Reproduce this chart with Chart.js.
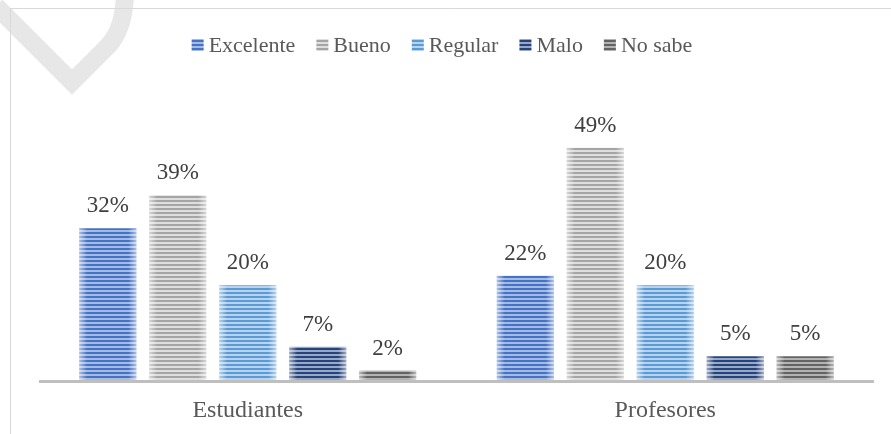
<!DOCTYPE html>
<html>
<head>
<meta charset="utf-8">
<script src="https://cdn.jsdelivr.net/npm/chart.js@4.4.0/dist/chart.umd.min.js"></script>
<style>
  html, body { margin: 0; padding: 0; background: #fff; }
  #wrap { position: relative; width: 891px; height: 434px; }
</style>
</head>
<body>
<div id="wrap"><canvas id="chart" width="891" height="434"></canvas></div>
<script>
const categories = ['Estudiantes', 'Profesores'];
const seriesNames = ['Excelente', 'Bueno', 'Regular', 'Malo', 'No sabe'];
const excelente = [32, 22];
const bueno = [39, 49];
const regular = [20, 20];
const malo = [7, 5];
const noSabe = [2, 5];

// [stripe colour, gap colour]
const seriesColors = [
    ['#4472c4', '#a6bbe4'],
    ['#a5a5a5', '#dedede'],
    ['#5b9bd5', '#b8d3ee'],
    ['#264478', '#98a8c8'],
    ['#636363', '#b3b3b3']
];

const FONT = "'Liberation Serif', 'Times New Roman', serif";

const makeStripes = ([dark, light]) => {
    const c = document.createElement('canvas');
    c.width = 4;
    c.height = 4;
    const g = c.getContext('2d');
    g.fillStyle = light;
    g.fillRect(0, 0, 4, 4);
    g.fillStyle = dark;
    g.fillRect(0, 0, 4, 2);
    return g.createPattern(c, 'repeat');
};

const patterns = seriesColors.map(makeStripes);
const values = [excelente, bueno, regular, malo, noSabe];

// watermark, frame lines
const backdrop = {
    id: 'backdrop',
    beforeDraw(chart) {
        const ctx = chart.ctx;
        ctx.save();
        ctx.strokeStyle = '#e7e7e7';
        ctx.lineWidth = 18;
        ctx.beginPath();
        ctx.moveTo(-4, 6);
        ctx.lineTo(72, 82);
        ctx.lineTo(108, 46);
        ctx.quadraticCurveTo(125, 28, 125, -10);
        ctx.stroke();

        ctx.strokeStyle = '#d9d9d9';
        ctx.lineWidth = 1;
        ctx.beginPath();
        ctx.moveTo(10.5, 434);
        ctx.lineTo(10.5, 8.5);
        ctx.lineTo(891, 8.5);
        ctx.stroke();
        ctx.restore();
    }
};

// bar shading, baseline, value labels, legend
const decorations = {
    id: 'decorations',
    afterDatasetsDraw(chart) {
        const ctx = chart.ctx;
        const area = chart.chartArea;
        ctx.save();

        chart.data.datasets.forEach((ds, i) => {
            chart.getDatasetMeta(i).data.forEach(bar => {
                const left = bar.x - bar.width / 2;
                const grad = ctx.createLinearGradient(left, 0, left + bar.width, 0);
                grad.addColorStop(0, 'rgba(255,255,255,0.55)');
                grad.addColorStop(0.14, 'rgba(255,255,255,0)');
                grad.addColorStop(0.86, 'rgba(255,255,255,0)');
                grad.addColorStop(1, 'rgba(255,255,255,0.55)');
                ctx.fillStyle = grad;
                ctx.fillRect(left, bar.y, bar.width, bar.base - bar.y);
            });
        });

        const xs = chart.scales.x;
        ctx.fillStyle = '#bfbfbf';
        ctx.fillRect(xs.left, area.bottom, xs.right - xs.left, 3);

        ctx.font = '23px ' + FONT;
        ctx.fillStyle = '#404040';
        ctx.textAlign = 'center';
        ctx.textBaseline = 'alphabetic';
        chart.data.datasets.forEach((ds, i) => {
            chart.getDatasetMeta(i).data.forEach((bar, j) => {
                ctx.fillText(ds.data[j] + '%', bar.x, bar.y - 16);
            });
        });

        ctx.font = '22px ' + FONT;
        ctx.textAlign = 'left';
        ctx.textBaseline = 'middle';
        const box = 12, gap = 5, spacing = 21;
        const widths = chart.data.datasets.map(ds => box + gap + ctx.measureText(ds.label).width);
        const total = widths.reduce((a, b) => a + b, 0) + spacing * (widths.length - 1);
        let x = 442 - total / 2;
        const cy = 45;
        chart.data.datasets.forEach((ds, i) => {
            ctx.fillStyle = ds.backgroundColor;
            ctx.fillRect(x, cy - 6, box, box);
            ctx.fillStyle = '#595959';
            ctx.fillText(ds.label, x + box + gap, cy + 1);
            x += widths[i] + spacing;
        });
        ctx.restore();
    }
};

new Chart(document.getElementById('chart'), {
    type: 'bar',
    data: {
        labels: categories,
        datasets: seriesNames.map((name, i) => ({
            label: name,
            data: values[i],
            backgroundColor: patterns[i],
            borderWidth: 0,
            categoryPercentage: 0.838,
            barPercentage: 0.814
        }))
    },
    options: {
        responsive: false,
        animation: false,
        events: [],
        layout: { padding: { top: 143, left: 39, right: 17, bottom: 10 } },
        plugins: {
            legend: { display: false },
            tooltip: { enabled: false }
        },
        scales: {
            x: {
                grid: { display: false, drawTicks: false },
                border: { display: false },
                ticks: { color: '#595959', font: { family: FONT, size: 24 }, padding: 16 },
                afterFit(scale) { scale.height = 44; }
            },
            y: {
                display: false,
                min: 0,
                max: 50
            }
        }
    },
    plugins: [backdrop, decorations]
});
</script>
</body>
</html>
